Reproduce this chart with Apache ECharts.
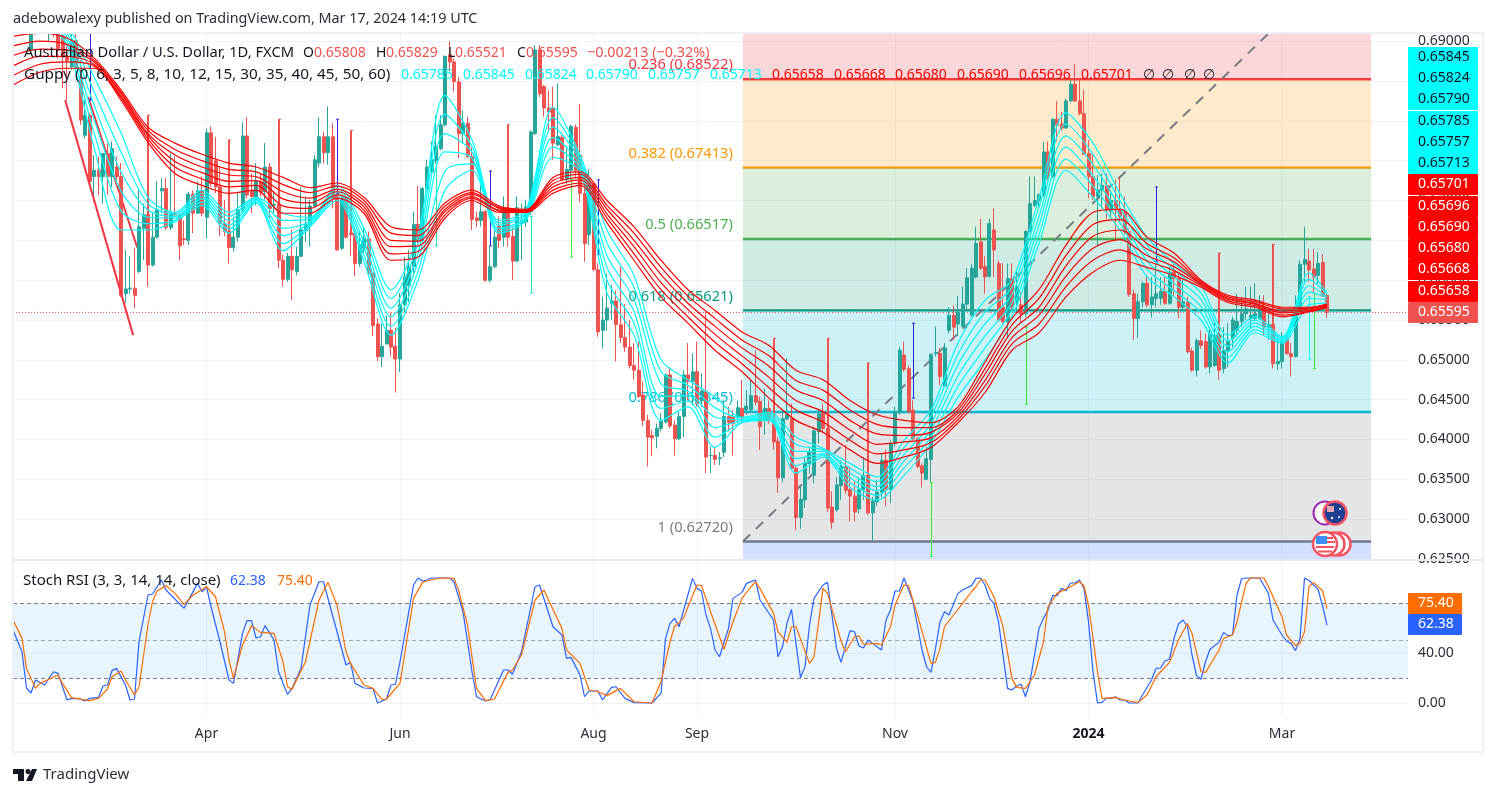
<!DOCTYPE html>
<html>
<head>
<meta charset="utf-8">
<title>AUD/USD</title>
<script src="https://cdn.jsdelivr.net/npm/echarts@6/dist/echarts.min.js"></script>
<style>
  html, body { margin: 0; padding: 0; background: #fff; }
  #chart { width: 1496px; height: 796px; }
</style>
</head>
<body>
<div id="chart"></div>
<script>
const FONT = "Noto Sans";
const AXIS_LEN = 311; // 293 daily candles plus the empty space on the right

const monthTicks = { 43: "Apr", 86: "Jun", 129: "Aug", 152: "Sep", 196: "Nov", 239: "2024", 282: "Mar" };
const priceTicks = [0.625, 0.63, 0.635, 0.64, 0.645, 0.65, 0.655, 0.66, 0.665, 0.67, 0.675, 0.68, 0.685, 0.69];
const rsiTicks = [0, 40];

// open, close, low, high, one row per day
const candles = [
  [.6935,.6925,.6920,.6945],[.6925,.6935,.6918,.6945],[.6935,.6925,.6915,.6945],[.6925,.6930,.6915,.6940],
  [.6889,.6926,.6887,.6935],[.6930,.6915,.6908,.6945],[.6915,.6925,.6910,.6935],[.6925,.6915,.6910,.6935],
  [.6915,.6925,.6899,.6935],[.6925,.6915,.6905,.6935],[.6920,.6891,.6878,.6940],[.6906,.6880,.6841,.6920],
  [.6880,.6876,.6826,.6895],[.6868,.6899,.6864,.6915],[.6901,.6866,.6862,.6915],[.6853,.6801,.6795,.6876],
  [.6782,.6807,.6778,.6826],[.6807,.6724,.6722,.6810],[.6730,.6738,.6698,.6757],[.6738,.6730,.6707,.6755],
  [.6730,.6759,.6696,.6759],[.6759,.6730,.6707,.6772],[.6730,.6765,.6717,.6774],[.6742,.6730,.6717,.6755],
  [.6730,.6581,.6579,.6747],[.6583,.6589,.6571,.6638],[.6589,.6590,.6583,.6630],[.6590,.6581,.6565,.6640],
  [.6611,.6667,.6609,.6715],[.6665,.6682,.6625,.6696],[.6682,.6619,.6592,.6807],[.6619,.6654,.6617,.6684],
  [.6654,.6689,.6652,.6724],[.6712,.6715,.6684,.6728],[.6715,.6666,.6663,.6728],[.6666,.6684,.6663,.6759],
  [.6684,.6682,.6680,.6755],[.6682,.6643,.6625,.6684],[.6652,.6651,.6644,.6675],[.6650,.6708,.6644,.6711],
  [.6708,.6684,.6659,.6713],[.6684,.6712,.6684,.6724],[.6712,.6684,.6680,.6730],[.6679,.6785,.6652,.6790],
  [.6785,.6721,.6717,.6793],[.6750,.6717,.6709,.6780],[.6717,.6671,.6655,.6742],[.6671,.6661,.6655,.6701],
  [.6661,.6641,.6621,.6776],[.6641,.6654,.6636,.6680],[.6654,.6688,.6648,.6711],[.6688,.6781,.6684,.6798],
  [.6781,.6707,.6703,.6805],[.6713,.6705,.6684,.6734],[.6701,.6724,.6694,.6747],[.6724,.6711,.6705,.6734],
  [.6711,.6742,.6701,.6772],[.6742,.6690,.6678,.6747],[.6694,.6695,.6684,.6711],[.6695,.6625,.6615,.6802],
  [.6625,.6601,.6592,.6632],[.6601,.6630,.6598,.6634],[.6630,.6613,.6575,.6663],[.6611,.6630,.6606,.6642],
  [.6630,.6663,.6629,.6717],[.6662,.6670,.6648,.6705],[.6670,.6693,.6642,.6701],[.6693,.6751,.6690,.6757],
  [.6747,.6780,.6742,.6804],[.6780,.6760,.6747,.6786],[.6760,.6780,.6745,.6818],[.6780,.6703,.6690,.6797],
  [.6705,.6638,.6637,.6709],[.6640,.6703,.6638,.6705],[.6703,.6654,.6652,.6705],[.6659,.6657,.6630,.6788],
  [.6659,.6621,.6605,.6667],[.6621,.6645,.6617,.6663],[.6640,.6652,.6634,.6667],[.6652,.6609,.6606,.6661],
  [.6609,.6543,.6530,.6611],[.6545,.6504,.6498,.6552],[.6504,.6517,.6491,.6546],[.6520,.6537,.6519,.6555],
  [.6537,.6516,.6504,.6559],[.6517,.6501,.6459,.6540],[.6501,.6569,.6485,.6584],[.6569,.6604,.6560,.6629],
  [.6593,.6617,.6573,.6638],[.6617,.6670,.6604,.6686],[.6670,.6650,.6646,.6718],[.6650,.6715,.6650,.6717],
  [.6715,.6742,.6712,.6751],[.6736,.6751,.6734,.6774],[.6750,.6768,.6747,.6807],[.6765,.6795,.6763,.6807],
  [.6795,.6881,.6793,.6882],[.6883,.6874,.6862,.6900],[.6874,.6849,.6837,.6878],[.6849,.6784,.6753,.6855],
  [.6784,.6797,.6772,.6813],[.6797,.6755,.6753,.6805],[.6755,.6676,.6663,.6767],[.6678,.6675,.6667,.6686],
  [.6675,.6686,.6667,.6719],[.6686,.6600,.6598,.6688],[.6600,.6617,.6597,.6643],[.6617,.6654,.6615,.6663],
  [.6668,.6650,.6640,.6680],[.6654,.6690,.6642,.6705],[.6690,.6654,.6642,.6795],[.6655,.6624,.6600,.6667],
  [.6624,.6691,.6623,.6705],[.6671,.6675,.6625,.6696],[.6673,.6692,.6667,.6701],[.6686,.6786,.6682,.6788],
  [.6784,.6889,.6782,.6895],[.6889,.6834,.6830,.6895],[.6843,.6816,.6805,.6845],[.6816,.6811,.6788,.6838],
  [.6816,.6772,.6751,.6843],[.6770,.6780,.6768,.6847],[.6779,.6726,.6724,.6782],[.6726,.6739,.6721,.6768],
  [.6738,.6793,.6726,.6795],[.6792,.6738,.6728,.6795],[.6757,.6709,.6698,.6821],[.6709,.6646,.6623,.6730],
  [.6657,.6721,.6644,.6739],[.6721,.6613,.6612,.6723],[.6613,.6535,.6529,.6621],[.6537,.6550,.6514,.6579],
  [.6550,.6565,.6537,.6608],[.6571,.6574,.6550,.6594],[.6574,.6544,.6498,.6587],[.6544,.6528,.6521,.6617],
  [.6528,.6516,.6510,.6570],[.6516,.6493,.6489,.6550],[.6493,.6487,.6475,.6521],[.6487,.6454,.6452,.6523],
  [.6456,.6424,.6417,.6473],[.6424,.6403,.6366,.6431],[.6405,.6402,.6379,.6412],[.6404,.6414,.6389,.6420],
  [.6414,.6423,.6410,.6433],[.6422,.6481,.6420,.6483],[.6481,.6417,.6414,.6491],[.6418,.6401,.6380,.6424],
  [.6401,.6429,.6399,.6435],[.6429,.6481,.6403,.6487],[.6481,.6473,.6449,.6521],[.6473,.6485,.6443,.6508],
  [.6485,.6445,.6441,.6523],[.6449,.6461,.6441,.6483],[.6460,.6378,.6358,.6560],[.6380,.6380,.6358,.6391],
  [.6380,.6375,.6368,.6391],[.6376,.6377,.6368,.6384],[.6384,.6429,.6378,.6449],[.6429,.6421,.6410,.6441],
  [.6428,.6420,.6380,.6437],[.6428,.6440,.6420,.6449],[.6439,.6427,.6420,.6475],[.6437,.6442,.6431,.6462],
  [.6437,.6455,.6435,.6475],[.6455,.6447,.6443,.6512],[.6448,.6416,.6387,.6454],[.6424,.6439,.6406,.6464],
  [.6439,.6424,.6420,.6449],[.6424,.6397,.6387,.6527],[.6398,.6352,.6333,.6403],[.6352,.6426,.6346,.6433],
  [.6426,.6431,.6424,.6502],[.6426,.6364,.6362,.6445],[.6364,.6302,.6286,.6366],[.6302,.6325,.6288,.6341],
  [.6324,.6370,.6314,.6378],[.6370,.6385,.6357,.6391],[.6355,.6411,.6345,.6416],[.6410,.6432,.6395,.6437],
  [.6433,.6414,.6408,.6445],[.6414,.6314,.6309,.6527],[.6315,.6296,.6288,.6335],[.6312,.6343,.6309,.6353],
  [.6342,.6366,.6324,.6374],[.6366,.6336,.6332,.6393],[.6337,.6329,.6297,.6366],[.6329,.6309,.6297,.6349],
  [.6313,.6337,.6307,.6353],[.6337,.6355,.6324,.6378],[.6355,.6308,.6305,.6496],[.6308,.6323,.6273,.6328],
  [.6322,.6334,.6316,.6349],[.6334,.6374,.6328,.6383],[.6374,.6337,.6316,.6387],[.6337,.6395,.6320,.6399],
  [.6395,.6434,.6391,.6441],[.6434,.6512,.6431,.6516],[.6506,.6488,.6485,.6523],[.6489,.6435,.6433,.6493],
  [.6437,.6401,.6399,.6449],[.6401,.6366,.6364,.6403],[.6367,.6358,.6340,.6370],[.6350,.6376,.6349,.6391],
  [.6375,.6507,.6347,.6508],[.6508,.6509,.6504,.6542],[.6508,.6479,.6468,.6515],[.6467,.6515,.6466,.6521],
  [.6537,.6556,.6533,.6566],[.6556,.6541,.6525,.6568],[.6545,.6560,.6530,.6580],[.6542,.6570,.6540,.6592],
  [.6570,.6603,.6562,.6615],[.6556,.6615,.6554,.6621],[.6604,.6646,.6602,.6667],[.6648,.6615,.6613,.6677],
  [.6617,.6604,.6583,.6630],[.6605,.6671,.6603,.6677],[.6663,.6638,.6604,.6690],[.6621,.6550,.6548,.6625],
  [.6566,.6548,.6546,.6621],[.6548,.6602,.6527,.6621],[.6602,.6566,.6562,.6621],[.6573,.6592,.6558,.6613],
  [.6569,.6558,.6546,.6584],[.6558,.6661,.6554,.6663],[.6661,.6696,.6659,.6730],[.6694,.6700,.6692,.6730],
  [.6700,.6707,.6688,.6709],[.6707,.6761,.6705,.6774],[.6761,.6730,.6726,.6774],[.6730,.6802,.6728,.6803],
  [.6802,.6795,.6774,.6825],[.6796,.6791,.6788,.6811],[.6791,.6825,.6790,.6828],[.6825,.6846,.6824,.6851],
  [.6846,.6825,.6824,.6871],[.6825,.6809,.6807,.6851],[.6809,.6758,.6757,.6839],[.6759,.6730,.6703,.6776],
  [.6730,.6705,.6701,.6759],[.6705,.6713,.6642,.6732],[.6713,.6719,.6692,.6734],[.6719,.6688,.6677,.6734],
  [.6686,.6700,.6677,.6713],[.6700,.6688,.6650,.6726],[.6688,.6680,.6673,.6730],[.6685,.6661,.6657,.6705],
  [.6661,.6582,.6579,.6665],[.6583,.6552,.6525,.6588],[.6552,.6573,.6527,.6583],[.6573,.6596,.6566,.6598],
  [.6596,.6569,.6566,.6606],[.6569,.6579,.6553,.6604],[.6577,.6583,.6566,.6621],[.6577,.6586,.6569,.6604],
  [.6586,.6571,.6569,.6604],[.6571,.6610,.6569,.6617],[.6610,.6602,.6579,.6621],[.6602,.6566,.6552,.6610],
  [.6566,.6573,.6564,.6600],[.6573,.6510,.6508,.6579],[.6511,.6487,.6485,.6515],[.6487,.6524,.6479,.6527],
  [.6524,.6518,.6514,.6537],[.6523,.6491,.6489,.6533],[.6491,.6532,.6483,.6541],[.6493,.6531,.6491,.6550],
  [.6532,.6487,.6475,.6634],[.6489,.6512,.6483,.6541],[.6512,.6523,.6491,.6546],[.6527,.6550,.6516,.6554],
  [.6537,.6548,.6529,.6583],[.6548,.6558,.6541,.6579],[.6558,.6564,.6550,.6592],[.6552,.6556,.6540,.6592],
  [.6552,.6558,.6548,.6596],[.6552,.6563,.6550,.6581],[.6565,.6541,.6531,.6581],[.6541,.6544,.6525,.6558],
  [.6544,.6495,.6489,.6645],[.6495,.6498,.6487,.6531],[.6498,.6523,.6489,.6535],[.6528,.6508,.6506,.6533],
  [.6508,.6504,.6479,.6521],[.6504,.6565,.6503,.6581],[.6565,.6620,.6563,.6625],[.6620,.6626,.6598,.6667],
  [.6624,.6613,.6598,.6639],[.6614,.6604,.6585,.6639],[.6606,.6621,.6594,.6635],[.6622,.6580,.6579,.6633],
  [.65808,.65595,.65521,.65829]
];

// thin coloured wicks drawn over some candles
const wickIdx =   [17, 72, 106, 94, 115, 124, 130, 200, 204, 225, 254, 288, 289, 30, 48, 59, 75, 110, 169, 181, 190, 268, 280];
const wickLow =   [.6826, .6709, .6643, .6643, .6584, .6629, .6632, .6452, .6253, .6444, .6623, .6501, .6489, .6682, .6661, .6695, .6659, .6690, .6424, .6414, .6355, .6532, .6544];
const wickHigh =  [.6912, .6802, .6737, .6747, .6680, .6726, .6726, .6546, .6346, .6541, .6717, .6579, .6583, .6807, .6776, .6802, .6788, .6795, .6527, .6527, .6496, .6634, .6645];
const wickColor = ["#2a1fe0", "#2a1fe0", "#2a1fe0", "#1de9b6", "#1de9b6", "#33ee33", "#2a1fe0", "#2a1fe0", "#33ee33", "#33ee33", "#2a1fe0", "#00ffff", "#33ee33",
  "#ef5350", "#ef5350", "#ef5350", "#ef5350", "#ef5350", "#ef5350", "#ef5350", "#ef5350", "#ef5350", "#ef5350"];

// Guppy ribbons, read every sixth day and at the last candle
const guppyIdx = [0,6,12,18,24,30,36,42,48,54,60,66,72,78,84,90,96,102,108,114,120,126,132,138,144,150,156,162,168,174,180,186,192,198,204,210,216,222,228,234,240,246,252,258,264,270,276,282,288,292];
const cyanRibbon = [
  [.6926,.6924,.6921,.6919,.6916,.6914],[.6945,.6940,.6935,.6930,.6925,.6920],[.6920,.6915,.6910,.6905,.6900,.6895],[.6855,.6837,.6820,.6802,.6785,.6767],
  [.6785,.6761,.6736,.6712,.6687,.6663],[.6704,.6696,.6688,.6679,.6671,.6663],[.6685,.6683,.6680,.6678,.6675,.6673],[.6713,.6709,.6705,.6702,.6698,.6694],
  [.6685,.6680,.6675,.6669,.6664,.6659],[.6704,.6703,.6701,.6700,.6698,.6697],[.6684,.6675,.6665,.6656,.6646,.6637],[.6679,.6677,.6674,.6672,.6669,.6667],
  [.6719,.6715,.6711,.6708,.6704,.6700],[.6665,.6657,.6648,.6640,.6631,.6623],[.6588,.6577,.6565,.6554,.6542,.6531],[.6657,.6646,.6634,.6623,.6611,.6600],
  [.6832,.6808,.6784,.6761,.6737,.6713],[.6776,.6768,.6761,.6753,.6746,.6738],[.6675,.6672,.6669,.6665,.6662,.6659],[.6688,.6685,.6683,.6680,.6678,.6675],
  [.6817,.6804,.6792,.6779,.6767,.6754],[.6757,.6753,.6749,.6744,.6740,.6736],[.6663,.6647,.6631,.6616,.6600,.6584],[.6606,.6591,.6576,.6561,.6546,.6531],
  [.6500,.6485,.6470,.6454,.6439,.6424],[.6475,.6468,.6461,.6455,.6448,.6441],[.6453,.6440,.6428,.6415,.6403,.6390],[.6428,.6427,.6425,.6424,.6422,.6421],
  [.6434,.6432,.6430,.6428,.6426,.6424],[.6403,.6394,.6385,.6376,.6367,.6358],[.6389,.6387,.6385,.6382,.6380,.6378],[.6370,.6364,.6358,.6352,.6346,.6340],
  [.6353,.6347,.6341,.6336,.6330,.6324],[.6399,.6390,.6381,.6373,.6364,.6355],[.6437,.6429,.6420,.6412,.6403,.6395],[.6521,.6507,.6494,.6480,.6467,.6453],
  [.6575,.6560,.6545,.6530,.6515,.6500],[.6600,.6591,.6582,.6572,.6563,.6554],[.6703,.6692,.6680,.6669,.6657,.6646],[.6810,.6796,.6781,.6767,.6752,.6738],
  [.6772,.6758,.6745,.6731,.6718,.6704],[.6709,.6700,.6691,.6681,.6672,.6663],[.6654,.6644,.6634,.6624,.6614,.6604],[.6621,.6613,.6604,.6596,.6587,.6579],
  [.6593,.6584,.6576,.6567,.6559,.6550],[.6531,.6524,.6517,.6510,.6503,.6496],[.6554,.6550,.6546,.6542,.6538,.6534],[.6529,.6527,.6526,.6524,.6523,.6521],
  [.6609,.6601,.6593,.6585,.6577,.6569],[.65845,.65824,.65790,.65785,.65757,.65713]
];
const redRibbon = [
  [.6906,.6894,.6882,.6869,.6857,.6845],[.6910,.6900,.6890,.6881,.6871,.6861],[.6904,.6896,.6889,.6881,.6874,.6866],[.6879,.6876,.6874,.6871,.6869,.6866],
  [.6839,.6836,.6834,.6831,.6829,.6826],[.6792,.6788,.6784,.6781,.6777,.6773],[.6772,.6764,.6757,.6749,.6742,.6734],[.6758,.6750,.6742,.6735,.6727,.6719],
  [.6747,.6739,.6732,.6724,.6717,.6709],[.6742,.6736,.6730,.6725,.6719,.6713],[.6729,.6720,.6711,.6702,.6693,.6684],[.6716,.6710,.6703,.6697,.6690,.6684],
  [.6722,.6718,.6714,.6711,.6707,.6703],[.6704,.6700,.6696,.6692,.6688,.6684],[.6667,.6659,.6650,.6642,.6633,.6625],[.6663,.6656,.6649,.6643,.6636,.6629],
  [.6697,.6693,.6689,.6686,.6682,.6678],[.6713,.6710,.6708,.6705,.6703,.6700],[.6693,.6691,.6690,.6688,.6687,.6685],[.6689,.6688,.6687,.6687,.6686,.6685],
  [.6729,.6725,.6721,.6717,.6713,.6709],[.6736,.6733,.6729,.6726,.6722,.6719],[.6700,.6694,.6689,.6683,.6678,.6672],[.6667,.6659,.6650,.6642,.6633,.6625],
  [.6625,.6616,.6607,.6597,.6588,.6579],[.6588,.6580,.6571,.6563,.6554,.6546],[.6562,.6552,.6542,.6532,.6522,.6512],[.6535,.6525,.6515,.6505,.6495,.6485],
  [.6518,.6505,.6492,.6478,.6465,.6452],[.6487,.6474,.6462,.6449,.6437,.6424],[.6475,.6462,.6449,.6435,.6422,.6409],[.6449,.6437,.6424,.6412,.6399,.6387],
  [.6431,.6419,.6407,.6394,.6382,.6370],[.6424,.6415,.6405,.6397,.6387,.6378],[.6421,.6415,.6409,.6402,.6396,.6390],[.6441,.6437,.6433,.6429,.6425,.6421],
  [.6497,.6489,.6482,.6474,.6467,.6459],[.6552,.6544,.6536,.6528,.6520,.6512],[.6588,.6577,.6566,.6556,.6545,.6534],[.6644,.6631,.6618,.6605,.6592,.6579],
  [.6685,.6670,.6655,.6640,.6625,.6610],[.6689,.6676,.6663,.6651,.6638,.6625],[.6654,.6646,.6639,.6631,.6624,.6616],[.6634,.6628,.6623,.6617,.6612,.6606],
  [.6600,.6598,.6596,.6595,.6593,.6591],[.6581,.6579,.6577,.6576,.6574,.6572],[.6575,.6573,.6571,.6570,.6568,.6566],[.6566,.6564,.6561,.6559,.6556,.6554],
  [.6566,.6565,.6564,.6562,.6561,.6560],[.65701,.65696,.65690,.65680,.65668,.65658]
];

// Stoch RSI, [day, value] at the turning points of each line
const rsiK = [[0,58.4],[2,41],[3,12],[4,8],[5,18.4],[7,14.4],[9,25],[10,23.7],[12,2.4],[13,3.7],[15,3.2],[16,1.6],[17,3.7],[19,4.5],[20,13.6],[21,14.4],[22,25.9],[23,27.7],[25,14.4],[26,2.4],[27,3.2],[28,49],[30,86.4],[31,87.2],[33,98.4],[34,90.4],[38,75.7],[41,95.7],[42,89],[43,93],[44,77],[46,49],[48,18.4],[49,15.7],[51,55.7],[52,65.9],[53,65.9],[54,52],[55,53],[56,61.9],[58,50.4],[59,25],[61,6.9],[62,11.7],[64,27.7],[66,78.4],[68,97],[69,97],[72,57],[74,30.4],[75,32.5],[76,15.7],[78,12],[80,11.7],[81,0],[83,3.2],[84,14.4],[85,15],[86,33],[89,94.4],[90,100],[91,97.6],[92,98.4],[93,100],[97,100],[98,97],[100,73],[102,25],[103,5],[105,1.6],[106,2.4],[109,26.4],[110,26.4],[111,23],[113,41],[116,93],[117,94.4],[120,61],[122,54.4],[123,35.7],[124,36.5],[126,22.4],[127,5],[128,9.6],[130,9.6],[131,2.4],[133,12.5],[134,13],[136,3.7],[138,.3],[142,0],[144,7.7],[145,51.7],[146,63.7],[147,67.7],[148,61],[151,99.7],[152,91.7],[153,89.6],[154,70.4],[155,59.7],[156,42.4],[157,37],[159,59.7],[160,83.7],[162,88.5],[163,95.7],[165,98.4],[166,82.4],[169,66.4],[170,37],[171,45],[172,63.7],[173,75],[175,20.3],[176,29],[177,62.4],[178,83.7],[180,94.4],[181,96.5],[183,43.7],[184,32.5],[186,57.9],[187,57],[188,45.6],[189,44],[190,50.4],[191,47.7],[193,42.4],[194,66.4],[195,74.4],[196,89.6],[197,89.6],[198,100],[200,81],[202,42.4],[203,29],[204,24.5],[205,43.7],[206,65],[207,73],[208,70.4],[210,87.7],[211,90.4],[213,93.9],[214,99.7],[215,100],[216,94.4],[217,83.7],[218,79.7],[219,65],[221,11.7],[222,10.4],[223,13.6],[224,15],[225,5],[226,17],[228,59.7],[229,67.7],[230,74.4],[231,85.9],[232,85.9],[233,91.7],[234,89.9],[235,96],[236,96],[237,98.4],[238,91.7],[239,65],[240,25],[241,0],[242,.5],[243,3.7],[244,3.7],[245,5],[246,2.4],[247,2.4],[248,0],[250,0],[251,6.4],[253,18.4],[254,27.7],[255,28],[256,33.6],[257,35],[258,51.7],[259,63.2],[260,66.4],[261,61],[262,38.4],[263,21.9],[264,19],[265,33],[266,43],[268,48.5],[269,56.5],[270,53.9],[271,54.4],[272,86.4],[273,99.2],[274,100],[277,100],[279,87.7],[280,66.4],[282,54.4],[283,49.6],[284,47.7],[285,41.9],[286,51.7],[287,100],[288,98],[290,91],[291,78],[292,62.38]];
const rsiD = [[0,66.4],[2,51.7],[3,27.7],[5,11.7],[6,15.7],[10,22.4],[11,15.7],[13,4.3],[17,1.9],[19,3.7],[21,11.2],[22,21],[24,25.6],[25,18.4],[27,6.4],[28,13],[30,62.4],[31,81],[32,89.6],[34,93.9],[36,87.7],[38,78.9],[40,86.4],[43,93],[45,85],[47,57],[48,34.4],[49,19.7],[51,46.4],[53,61.9],[55,56.5],[58,55.7],[60,33],[61,13],[62,10.9],[65,33],[68,82.4],[70,96.5],[72,78.4],[74,41],[75,31.7],[78,14.4],[80,11.7],[82,2.9],[83,3.2],[86,15.7],[87,38.4],[89,83.7],[91,96.5],[92,97.6],[95,100],[98,99.7],[99,90.4],[101,62.4],[103,11.7],[105,1.9],[107,3.2],[110,24.5],[111,26.4],[113,38.4],[116,82.4],[118,90.4],[119,82.4],[122,59.7],[123,42.4],[126,31.7],[128,10.4],[130,9],[132,5.9],[135,11.7],[138,1],[142,0],[144,17],[146,49],[147,61],[149,67.7],[150,77],[152,94.4],[153,93.9],[155,73],[158,43],[160,65],[162,83.7],[164,93],[165,97],[166,91.7],[169,71.7],[170,57],[172,48.5],[173,61],[174,61],[177,31.7],[178,37],[180,91.7],[181,87.7],[184,49.6],[185,41],[187,53],[188,53.6],[189,47],[192,47.7],[193,46.4],[195,61],[196,78.4],[198,94.4],[199,93.9],[201,70.4],[204,31.7],[205,32.5],[206,43.7],[207,61],[209,70.4],[211,79.7],[213,89],[214,93],[215,98.4],[216,98.4],[218,85],[220,61],[222,19.7],[223,12.5],[225,11.7],[227,22.4],[229,49],[230,77],[232,87.7],[235,93],[237,97],[238,93.6],[239,78.4],[241,25],[242,3.7],[245,4.3],[247,2.4],[250,.3],[252,6.4],[254,21],[257,32.5],[259,50.4],[261,63.7],[262,55.7],[264,25],[265,24.5],[268,42.4],[269,51.7],[271,54.4],[272,65],[274,95.7],[275,100],[278,100],[279,93],[282,69],[283,54.4],[285,45.9],[286,47.7],[287,57],[288,93],[289,96.5],[291,90],[292,75.4]];
const rsiLevels = [20, 50, 80];

// Fibonacci retracement bands: each band's lower edge carries the level line
const fibBandTop =    [.6909, .68522, .67413, .66517, .65621, .64345, .6272];
const fibBandBottom = [.68522, .67413, .66517, .65621, .64345, .6272, .6250];
const fibLabels = ["0.236 (0.68522)", "0.382 (0.67413)", "0.5 (0.66517)", "0.618 (0.65621)", "0.786 (0.64345)", "1 (0.62720)", ""];
const fibColors = ["#f23645", "#ff9800", "#4caf50", "#089981", "#00bcd4", "#787b86", "#2962ff"];
const fibSpan = [162.2, 301.8];
const fibDiagonal = [[162.2, .6272], [278.9, .6909]];
const trendLineA = [[11.6, .6826], [26.7, .6531]];
const trendLineB = [[16.7, .6830], [27.6, .6641]];
const lastClose = 0.65595;

const pillLabels = ["0.65845","0.65824","0.65790","0.65785","0.65757","0.65713","0.65701","0.65696","0.65690","0.65680","0.65668","0.65658","0.65595"];
const pillCenters = [57.5,78.5,99.5,121.5,142.5,163.5,184.5,206.5,227.5,248.5,269.5,291.5,312.5];

const legendRow1 = [["Australian Dollar / U.S. Dollar, 1D, FXCM",24,"#131722",14.7],["O",303,"#131722"],["0.65808",314,"#ef5350"],["H",376,"#131722"],["0.65829",386,"#ef5350"],["L",448,"#131722"],["0.65521",455,"#ef5350"],["C",517,"#131722"],["0.65595",526,"#ef5350"],["\u22120.00213 (\u22120.32%)",587,"#ef5350",14.4]];
const legendRow2 = [["Guppy (0, 6, 3, 5, 8, 10, 12, 15, 30, 35, 40, 45, 50, 60)",24,"#131722",15.3],
  ["0.65785",401,"#00ffff"],["0.65845",463,"#00ffff"],["0.65824",525,"#00ffff"],["0.65790",586,"#00ffff"],["0.65757",648,"#00ffff"],["0.65713",710,"#00ffff"],
  ["0.65658",772,"#ff0000"],["0.65668",834,"#ff0000"],["0.65680",895,"#ff0000"],["0.65690",957,"#ff0000"],["0.65696",1019,"#ff0000"],["0.65701",1081,"#ff0000"],
  ["\u2205",1143,"#131722"],["\u2205",1162,"#131722"],["\u2205",1184,"#131722"],["\u2205",1203,"#131722"]];

const chart = echarts.init(document.getElementById("chart"), null, { renderer: "canvas" });
const cats = Array.from({ length: AXIS_LEN }, (_, i) => String(i));
const showMonth = (i) => monthTicks[i] !== undefined;

function txt(text, x, y, fill, size, extra) {
  return { type: "text", z: 50, silent: true, style: Object.assign({ text, x, y, fill, font: `${size || 14}px "${FONT}"`, textVerticalAlign: "middle" }, extra || {}) };
}

function pillRect(x, y, w, h, fill) {
  return { type: "rect", z: 49, silent: true, shape: { x, y, width: w, height: h, r: 1 }, style: { fill } };
}

function guppySeries(rows, n, color) {
  return {
    type: "line", xAxisIndex: 0, yAxisIndex: 0, z: 6, silent: true, showSymbol: false, smooth: 0.3,
    lineStyle: { color, width: 1.2 },
    data: guppyIdx.map((d, k) => [d, rows[k][n]])
  };
}

const graphics = [
  // candles above the pane's top edge are covered, as the price scale cuts them off
  { type: "rect", z: 30, silent: true, shape: { x: 0, y: 0, width: 1496, height: 33 }, style: { fill: "#ffffff" } },
  txt("adebowalexy published on TradingView.com, Mar 17, 2024 14:19 UTC", 13, 19, "#2a2e39", 14.35),
  { type: "rect", z: 31, silent: true, shape: { x: 13, y: 33, width: 1470, height: 719 }, style: { fill: "none", stroke: "#eceff6", lineWidth: 2 } },
  { type: "line", z: 31, silent: true, shape: { x1: 13, y1: 560, x2: 1483, y2: 560 }, style: { stroke: "#e6e9f0", lineWidth: 2 } },
  // TradingView mark
  { type: "polygon", z: 50, silent: true, shape: { points: [[13,769],[24,769],[24,781],[18,781],[18,774],[13,774]] }, style: { fill: "#131722" } },
  { type: "circle", z: 50, silent: true, shape: { cx: 28, cy: 771.5, r: 2.5 }, style: { fill: "#131722" } },
  { type: "polygon", z: 50, silent: true, shape: { points: [[32,769],[37,769],[32,781],[26,781]] }, style: { fill: "#131722" } },
  txt("TradingView", 43, 775, "#2a2e39", 15),
  // currency badges
  { type: "circle", z: 40, silent: true, shape: { cx: 1325, cy: 513, r: 11.5 }, style: { fill: "#fff", stroke: "#9c27b0", lineWidth: 2 } },
  { type: "circle", z: 41, silent: true, shape: { cx: 1335, cy: 513, r: 11.5 }, style: { fill: "#1c3f94", stroke: "#f7525f", lineWidth: 2.5 } },
  { type: "rect", z: 42, silent: true, shape: { x: 1327, y: 506, width: 7, height: 6 }, style: { fill: "#e9a6b4" } },
  { type: "circle", z: 42, silent: true, shape: { cx: 1339, cy: 517, r: 1 }, style: { fill: "#fff" } },
  { type: "circle", z: 42, silent: true, shape: { cx: 1340, cy: 509, r: 1 }, style: { fill: "#fff" } },
  { type: "circle", z: 42, silent: true, shape: { cx: 1332, cy: 518, r: 1.2 }, style: { fill: "#fff" } },
  { type: "circle", z: 40, silent: true, shape: { cx: 1339, cy: 544, r: 11.5 }, style: { fill: "#fff", stroke: "#f7525f", lineWidth: 2.5 } },
  { type: "circle", z: 41, silent: true, shape: { cx: 1333, cy: 544, r: 11.5 }, style: { fill: "#fff", stroke: "#f7525f", lineWidth: 2.5 } },
  { type: "circle", z: 42, silent: true, shape: { cx: 1325, cy: 544, r: 12 }, style: { fill: "#fff", stroke: "#f7525f", lineWidth: 2.5 } },
  { type: "rect", z: 43, silent: true, shape: { x: 1316, y: 536, width: 11, height: 8, r: 1 }, style: { fill: "#3d8ef0" } },
  { type: "rect", z: 43, silent: true, shape: { x: 1316, y: 546, width: 18, height: 2 }, style: { fill: "#f7525f" } },
  { type: "rect", z: 43, silent: true, shape: { x: 1318, y: 550.5, width: 14, height: 2 }, style: { fill: "#f7525f" } },
  { type: "rect", z: 43, silent: true, shape: { x: 1327, y: 541, width: 8, height: 2 }, style: { fill: "#f7525f" } },
  { type: "rect", z: 43, silent: true, shape: { x: 1327, y: 537, width: 6, height: 2 }, style: { fill: "#f7525f" } }
];
legendRow1.forEach(([t, x, c, s]) => graphics.push(txt(t, x, 53, c, s || 14)));
legendRow2.forEach(([t, x, c, s]) => graphics.push(txt(t, x, 75, c, s || 14)));
pillLabels.forEach((label, i) => {
  const last = i === pillLabels.length - 1;
  const bg = i < 6 ? "#00ffff" : last ? "#ef5350" : "#ff0000";
  graphics.push(pillRect(1408, pillCenters[i] - 10.5, 70, 21, bg));
  graphics.push(txt(label, 1418, pillCenters[i], i < 6 ? "#131722" : "#ffffff", 14));
});
graphics.push(pillRect(1408, 593, 54, 21, "#ff6d00"), txt("75.40", 1418, 603.5, "#ffffff", 14));
graphics.push(pillRect(1408, 614, 54, 21, "#2962ff"), txt("62.38", 1418, 624.5, "#ffffff", 14));
graphics.push(txt("Stoch RSI (3, 3, 14, 14, close)", 23, 581, "#131722", 15), txt("62.38", 230, 581, "#2962ff", 14), txt("75.40", 277, 581, "#ff6d00", 14));

const splitStyle = { show: true, lineStyle: { color: "#f0f3fa", width: 1 } };

const option = {
  animation: false,
  backgroundColor: "#ffffff",
  textStyle: { fontFamily: FONT },
  graphic: { elements: graphics },
  grid: [
    { left: 13, width: 1395, top: 34, height: 525 },
    { left: 13, width: 1395, top: 561, height: 156 }
  ],
  xAxis: [
    { type: "category", gridIndex: 0, data: cats, boundaryGap: false,
      axisLine: { show: false }, axisTick: { show: false }, axisLabel: { show: false },
      splitLine: Object.assign({ interval: (i) => showMonth(i) }, splitStyle) },
    { type: "value", gridIndex: 0, min: 0, max: AXIS_LEN - 1, show: false },
    { type: "category", gridIndex: 1, data: cats, boundaryGap: false,
      axisLine: { show: false }, axisTick: { show: false },
      splitLine: Object.assign({ interval: (i) => showMonth(i) }, splitStyle),
      axisLabel: { interval: (i) => showMonth(i), margin: 10, fontSize: 14, color: "#2a2e39", fontFamily: FONT,
        formatter: (v, i) => (monthTicks[i] === "2024" ? "{b|2024}" : monthTicks[i] || ""),
        rich: { b: { fontWeight: "bold", fontSize: 14, color: "#131722", fontFamily: FONT } } } }
  ],
  yAxis: [
    { type: "value", gridIndex: 0, position: "right", min: 0.625, max: 0.6909, scale: true,
      axisLine: { show: false },
      axisTick: { show: false, customValues: priceTicks },
      splitLine: splitStyle,
      axisLabel: { customValues: priceTicks, margin: 10, fontSize: 14, color: "#2a2e39", fontFamily: FONT, formatter: (v) => v.toFixed(5) } },
    { type: "value", gridIndex: 1, position: "right", min: -11.2, max: 113.6,
      axisLine: { show: false },
      axisTick: { show: false, customValues: rsiTicks },
      splitLine: splitStyle,
      axisLabel: { customValues: rsiTicks, margin: 10, fontSize: 14, color: "#2a2e39", fontFamily: FONT, formatter: (v) => v.toFixed(2) } }
  ],
  series: [
    { // fib bands, level lines and their labels
      type: "custom", xAxisIndex: 1, yAxisIndex: 0, z: 1, silent: true, clip: false,
      encode: { x: [0, 1], y: [2, 3] },
      data: fibBandTop.map((top, i) => [fibSpan[0], fibSpan[1], top, fibBandBottom[i]]),
      renderItem: (params, api) => {
        const i = params.dataIndex;
        const a = api.coord([api.value(0), api.value(2)]);
        const b = api.coord([api.value(1), api.value(3)]);
        const kids = [{ type: "rect", shape: { x: a[0], y: a[1], width: b[0] - a[0], height: b[1] - a[1] }, style: { fill: fibColors[i], opacity: 0.2 } }];
        if (fibLabels[i]) {
          kids.push({ type: "line", shape: { x1: a[0], y1: b[1], x2: b[0], y2: b[1] }, style: { stroke: fibColors[i], lineWidth: 2.4 } });
          kids.push({ type: "text", style: { text: fibLabels[i], x: a[0] - 10, y: b[1] - 14, fill: fibColors[i], align: "right", verticalAlign: "middle", font: `14.7px "${FONT}"` } });
        }
        return { type: "group", children: kids };
      }
    },
    { type: "line", xAxisIndex: 1, yAxisIndex: 0, z: 2, silent: true, showSymbol: false, data: fibDiagonal,
      lineStyle: { color: "#787b86", width: 2, type: [10, 8] } },
    { type: "line", xAxisIndex: 1, yAxisIndex: 0, z: 2, silent: true, showSymbol: false, data: [[0, lastClose], [AXIS_LEN - 1, lastClose]],
      lineStyle: { color: "#ef5350", width: 1, type: [1, 2] } },
    { type: "line", xAxisIndex: 1, yAxisIndex: 0, z: 7, silent: true, showSymbol: false, data: trendLineA, lineStyle: { color: "#f23645", width: 2 } },
    { type: "line", xAxisIndex: 1, yAxisIndex: 0, z: 3, silent: true, showSymbol: false, data: trendLineB, lineStyle: { color: "#f23645", width: 2 } },
    { // coloured wicks with small end caps
      type: "custom", xAxisIndex: 0, yAxisIndex: 0, z: 4, silent: true, clip: true,
      encode: { x: 0, y: [1, 2] },
      data: wickIdx.map((d, i) => [d, wickLow[i], wickHigh[i]]),
      renderItem: (params, api) => {
        const lo = api.coord([api.value(0), api.value(1)]);
        const hi = api.coord([api.value(0), api.value(2)]);
        const x = Math.round(lo[0]) + 0.5;
        const style = { stroke: wickColor[params.dataIndex], lineWidth: 1 };
        return { type: "group", children: [
          { type: "line", shape: { x1: x, y1: lo[1], x2: x, y2: hi[1] }, style },
          { type: "line", shape: { x1: x - 1.5, y1: lo[1], x2: x + 1.5, y2: lo[1] }, style },
          { type: "line", shape: { x1: x - 1.5, y1: hi[1], x2: x + 1.5, y2: hi[1] }, style }
        ] };
      }
    },
    { type: "candlestick", xAxisIndex: 0, yAxisIndex: 0, z: 5, silent: true, barWidth: 3.5, data: candles,
      itemStyle: { color: "#26a69a", color0: "#ef5350", borderColor: "#26a69a", borderColor0: "#ef5350", borderWidth: 1 } },
    guppySeries(cyanRibbon, 0, "#00ffff"), guppySeries(cyanRibbon, 1, "#00ffff"), guppySeries(cyanRibbon, 2, "#00ffff"),
    guppySeries(cyanRibbon, 3, "#00ffff"), guppySeries(cyanRibbon, 4, "#00ffff"), guppySeries(cyanRibbon, 5, "#00ffff"),
    guppySeries(redRibbon, 0, "#ff0000"), guppySeries(redRibbon, 1, "#ff0000"), guppySeries(redRibbon, 2, "#ff0000"),
    guppySeries(redRibbon, 3, "#ff0000"), guppySeries(redRibbon, 4, "#ff0000"), guppySeries(redRibbon, 5, "#ff0000"),
    { // stoch RSI band and level lines
      type: "line", xAxisIndex: 2, yAxisIndex: 1, z: 1, silent: true, showSymbol: false, data: [],
      markArea: { silent: true, itemStyle: { color: "#2196f3", opacity: 0.1 }, data: [[{ yAxis: rsiLevels[0] }, { yAxis: rsiLevels[2] }]] },
      markLine: { silent: true, symbol: "none", label: { show: false },
        data: rsiLevels.map((v) => ({ yAxis: v, lineStyle: { color: v === 50 ? "#a3a6af" : "#787b86", type: [4, 3], width: 1 } })) }
    },
    { type: "line", xAxisIndex: 2, yAxisIndex: 1, z: 5, silent: true, showSymbol: false, data: rsiK, lineStyle: { color: "#2962ff", width: 1.2 } },
    { type: "line", xAxisIndex: 2, yAxisIndex: 1, z: 6, silent: true, showSymbol: false, data: rsiD, lineStyle: { color: "#ff6d00", width: 1.2 } }
  ]
};

chart.setOption(option);
</script>
</body>
</html>
